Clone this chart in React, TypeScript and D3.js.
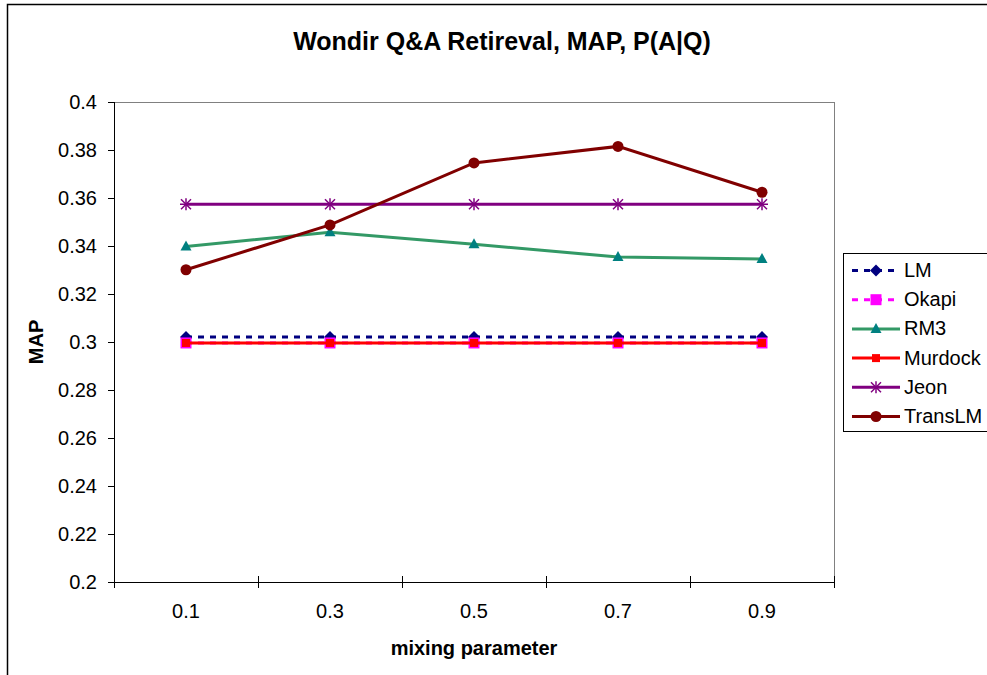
import React from "react";
import * as d3 from "d3";

// Categories on the x axis (mixing parameter values)
const categories = ["0.1", "0.3", "0.5", "0.7", "0.9"];

// MAP per series
const lmValues = [0.3021, 0.3021, 0.3021, 0.3021, 0.3021];
const okapiValues = [0.2996, 0.2996, 0.2996, 0.2996, 0.2996];
const rm3Values = [0.3398, 0.3457, 0.3407, 0.3354, 0.3346];
const murdockValues = [0.2996, 0.2996, 0.2996, 0.2996, 0.2996];
const jeonValues = [0.3574, 0.3574, 0.3574, 0.3574, 0.3574];
const transLMValues = [0.3301, 0.3488, 0.3746, 0.3815, 0.3624];

const yTicks = [0.2, 0.22, 0.24, 0.26, 0.28, 0.3, 0.32, 0.34, 0.36, 0.38, 0.4];

type Marker = "diamond" | "square" | "triangle" | "smallSquare" | "star" | "circle";

interface Series {
  name: string;
  values: number[];
  line: string;
  fill: string;
  dash?: string;
  marker: Marker;
}

const series: Series[] = [
  { name: "LM", values: lmValues, line: "#000080", fill: "#000080", dash: "6,6", marker: "diamond" },
  { name: "Okapi", values: okapiValues, line: "#FF00FF", fill: "#FF00FF", dash: "6,6", marker: "square" },
  { name: "RM3", values: rm3Values, line: "#339966", fill: "#008080", marker: "triangle" },
  { name: "Murdock", values: murdockValues, line: "#FF0000", fill: "#FF0000", marker: "smallSquare" },
  { name: "Jeon", values: jeonValues, line: "#800080", fill: "#800080", marker: "star" },
  { name: "TransLM", values: transLMValues, line: "#800000", fill: "#800000", marker: "circle" },
];

const W = 987;
const H = 675;
const plot = { left: 114, top: 102, right: 834, bottom: 582 };
const FONT = "'Liberation Sans', Arial, sans-serif";

function MarkerShape({ type, x, y, color }: { type: Marker; x: number; y: number; color: string }) {
  switch (type) {
    case "diamond":
      return <path d={`M${x},${y - 6}L${x + 6},${y}L${x},${y + 6}L${x - 6},${y}Z`} fill={color} />;
    case "square":
      return <rect x={x - 5.5} y={y - 5.5} width={11} height={11} fill={color} />;
    case "smallSquare":
      return <rect x={x - 4} y={y - 4} width={8} height={8} fill={color} />;
    case "triangle":
      return <path d={`M${x},${y - 6}L${x + 5.5},${y + 4}L${x - 5.5},${y + 4}Z`} fill={color} />;
    case "star":
      return (
        <g stroke={color} strokeWidth={1.5}>
          <line x1={x - 6} y1={y} x2={x + 6} y2={y} />
          <line x1={x} y1={y - 6} x2={x} y2={y + 6} />
          <line x1={x - 5} y1={y - 5} x2={x + 5} y2={y + 5} />
          <line x1={x - 5} y1={y + 5} x2={x + 5} y2={y - 5} />
        </g>
      );
    case "circle":
      return <circle cx={x} cy={y} r={5.5} fill={color} />;
  }
}

export default function App() {
  const x = d3.scaleBand<string>().domain(categories).range([plot.left, plot.right]);
  const y = d3.scaleLinear().domain([0.2, 0.4]).range([plot.bottom, plot.top]);
  const cx = (c: string) => (x(c) ?? 0) + x.bandwidth() / 2;

  const line = d3
    .line<number>()
    .x((_, i) => cx(categories[i]))
    .y((v) => y(v));

  const xTickPositions = categories.map((c) => x(c) ?? 0).concat([plot.right]);

  const legend = { left: 843.5, top: 253.5, rowStart: 270.5, rowStep: 29.2 };

  return (
    <svg
      width={W}
      height={H}
      style={{ position: "absolute", left: 0, top: 0, background: "#fff" }}
      fontFamily={FONT}
    >
      <rect x={0} y={0} width={W} height={H} fill="#fff" />
      {/* chart frame */}
      <rect x={7.5} y={4.5} width={W + 20} height={H + 20} fill="none" stroke="#000" strokeWidth={1.5} />

      <text x={502} y={50} textAnchor="middle" fontSize={25} fontWeight="bold">
        Wondir Q&amp;A Retireval, MAP, P(A|Q)
      </text>

      {/* plot area border */}
      <line x1={plot.left} y1={plot.top + 0.5} x2={plot.right} y2={plot.top + 0.5} stroke="#808080" strokeWidth={1} />
      <line x1={plot.right + 0.5} y1={plot.top} x2={plot.right + 0.5} y2={plot.bottom} stroke="#808080" strokeWidth={1} />

      {/* y axis */}
      <line x1={plot.left + 0.5} y1={plot.top} x2={plot.left + 0.5} y2={plot.bottom} stroke="#000" strokeWidth={1} />
      {yTicks.map((t) => (
        <g key={t}>
          <line x1={plot.left - 6} x2={plot.left} y1={Math.round(y(t)) + 0.5} y2={Math.round(y(t)) + 0.5} stroke="#000" />
          <text x={plot.left - 17} y={y(t) + 7} textAnchor="end" fontSize={20}>
            {d3.format("")(t)}
          </text>
        </g>
      ))}

      {/* x axis */}
      <line x1={plot.left} y1={plot.bottom + 0.5} x2={plot.right} y2={plot.bottom + 0.5} stroke="#000" strokeWidth={1} />
      {xTickPositions.map((p, i) => (
        <line key={i} x1={Math.round(p) + 0.5} x2={Math.round(p) + 0.5} y1={plot.bottom - 6} y2={plot.bottom + 6} stroke="#000" />
      ))}
      {categories.map((c) => (
        <text key={c} x={cx(c)} y={618} textAnchor="middle" fontSize={20}>
          {c}
        </text>
      ))}

      <text x={474} y={655} textAnchor="middle" fontSize={20} fontWeight="bold">
        mixing parameter
      </text>
      <text transform={`translate(43,342) rotate(-90)`} textAnchor="middle" fontSize={20} fontWeight="bold">
        MAP
      </text>

      {/* series */}
      {series.map((s) => (
        <g key={s.name}>
          <path d={line(s.values) ?? ""} fill="none" stroke={s.line} strokeWidth={3} strokeDasharray={s.dash} />
          {s.values.map((v, i) => (
            <MarkerShape key={i} type={s.marker} x={cx(categories[i])} y={y(v)} color={s.fill} />
          ))}
        </g>
      ))}

      {/* legend */}
      <rect x={legend.left} y={legend.top} width={160} height={178} fill="#fff" stroke="#000" strokeWidth={1} />
      {series.map((s, i) => {
        const ly = legend.rowStart + i * legend.rowStep;
        return (
          <g key={s.name}>
            <line x1={852} x2={900} y1={ly} y2={ly} stroke={s.line} strokeWidth={3} strokeDasharray={s.dash} />
            <MarkerShape type={s.marker} x={876} y={ly} color={s.fill} />
            <text x={904} y={ly + 6.5} fontSize={20}>
              {s.name}
            </text>
          </g>
        );
      })}
    </svg>
  );
}
